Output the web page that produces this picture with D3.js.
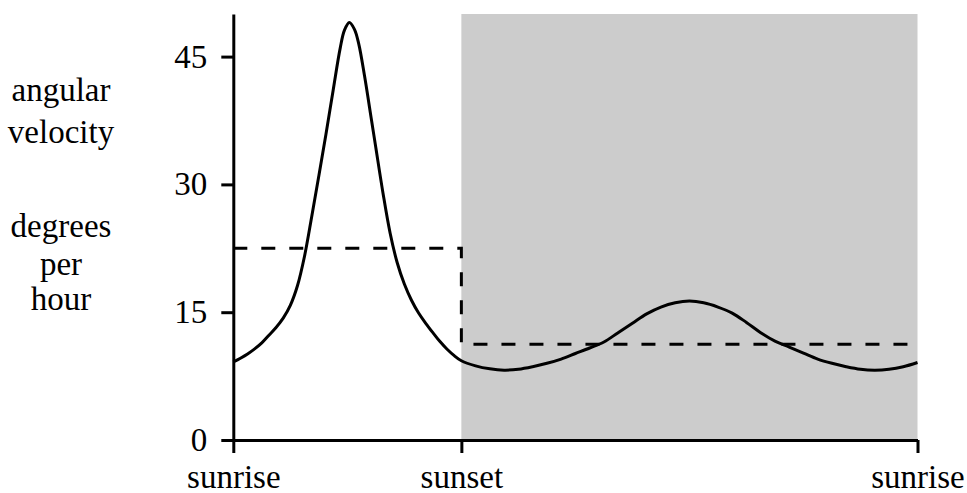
<!DOCTYPE html>
<html>
<head>
<meta charset="utf-8">
<script src="https://cdn.jsdelivr.net/npm/d3@7"></script>
<style>
  body { margin: 0; background: #fff; }
</style>
</head>
<body>
<div id="chart"></div>
<script>
// hours after sunrise (sunset at 8, next sunrise at 24)
const hours = [0, 0.25, 0.5, 0.75, 1, 1.25, 1.5, 1.75, 2, 2.25, 2.5, 2.75, 3, 3.25, 3.5, 3.75, 3.9, 4.07,
  4.25, 4.4, 4.6, 4.85, 5, 5.25, 5.5, 5.75, 6, 6.25, 6.5, 6.75, 7, 7.25, 7.5, 7.75, 8,
  8.5, 9, 9.5, 10, 10.5, 11, 11.5, 12, 12.5, 13, 13.5, 14, 14.5, 15, 15.5, 16, 16.5, 17, 17.5, 18, 18.5, 19, 19.5,
  20, 20.5, 21, 21.5, 22, 22.5, 23, 23.5, 24];
// angular velocity, degrees per hour
const velocity = [9.15, 9.6, 10.1, 10.7, 11.4, 12.3, 13.2, 14.3, 15.8, 18.1, 21.6, 26.2, 31.0, 35.9, 41.0, 46.0, 48.1, 49.0,
  48.2, 46.5, 42.8, 37.5, 34.3, 29.0, 24.3, 20.8, 18.3, 16.4, 14.9, 13.7, 12.6, 11.55, 10.65, 9.9, 9.3,
  8.7, 8.35, 8.2, 8.3, 8.6, 9.0, 9.5, 10.15, 10.8, 11.5, 12.6, 13.7, 14.8, 15.6, 16.1, 16.3, 16.1, 15.6, 14.9, 13.8, 12.6, 11.6, 10.9,
  10.2, 9.5, 9.0, 8.6, 8.3, 8.2, 8.3, 8.6, 9.1];
// average speed: 180 degrees over day, 180 degrees over night
const avgHours = [0, 8, 8, 24];
const avgVelocity = [22.5, 22.5, 11.25, 11.25];
const nightSpan = [8, 24];

const xTicks = [0, 8, 24];
const xTickLabels = ["sunrise", "sunset", "sunrise"];
const yTicks = [0, 15, 30, 45];
const yLabelLines = ["angular", "velocity", "degrees", "per", "hour"];

const width = 967, height = 493;
const font = '"Liberation Serif", "Times New Roman", Times, serif';
const fontSize = 33;
const svg = d3.select("#chart").append("svg")
  .attr("width", width)
  .attr("height", height)
  .attr("font-family", font);

const x = d3.scaleLinear().domain([0, 24]).range([233.3, 917.5]);
const y = d3.scaleLinear().domain([0, 50]).range([440, 14]);

// night shading
svg.append("rect")
  .attr("x", x(nightSpan[0]))
  .attr("y", y(50))
  .attr("width", x(nightSpan[1]) - x(nightSpan[0]))
  .attr("height", y(0) - y(50))
  .attr("fill", "#cccccc");

const line = d3.line()
  .x(d => x(d[0]))
  .y(d => y(d[1]))
  .curve(d3.curveCatmullRom.alpha(0.5));

svg.append("path")
  .datum(hours.map((h, i) => [h, velocity[i]]))
  .attr("fill", "none")
  .attr("stroke", "#000")
  .attr("stroke-width", 3)
  .attr("stroke-linejoin", "round")
  .attr("d", line);

svg.append("path")
  .datum(avgHours.map((h, i) => [h, avgVelocity[i]]))
  .attr("fill", "none")
  .attr("stroke", "#000")
  .attr("stroke-width", 3)
  .attr("stroke-dasharray", "14,14")
  .attr("d", d3.line().x(d => x(d[0])).y(d => y(d[1])));

// axes
const yAxis = svg.append("g")
  .attr("transform", `translate(${x(0)},0)`)
  .call(d3.axisLeft(y).tickValues(yTicks).tickSize(12).tickSizeOuter(0).tickPadding(14));

const xAxis = svg.append("g")
  .attr("transform", `translate(0,${y(0)})`)
  .call(d3.axisBottom(x).tickValues(xTicks).tickSize(13).tickSizeOuter(0).tickPadding(12)
    .tickFormat((d, i) => xTickLabels[i]));

[xAxis, yAxis].forEach(g => {
  g.attr("font-family", font).attr("font-size", fontSize);
  g.selectAll("path, line").attr("stroke", "#000").attr("stroke-width", 3);
  g.selectAll("text").attr("fill", "#000");
});

// y label, stacked on the left
const yLabelBaselines = [101, 143, 237, 275, 310];
svg.append("g")
  .attr("font-family", font)
  .attr("font-size", fontSize)
  .selectAll("text")
  .data(yLabelLines)
  .join("text")
  .attr("x", 61)
  .attr("y", (d, i) => yLabelBaselines[i])
  .attr("text-anchor", "middle")
  .text(d => d);
</script>
</body>
</html>
